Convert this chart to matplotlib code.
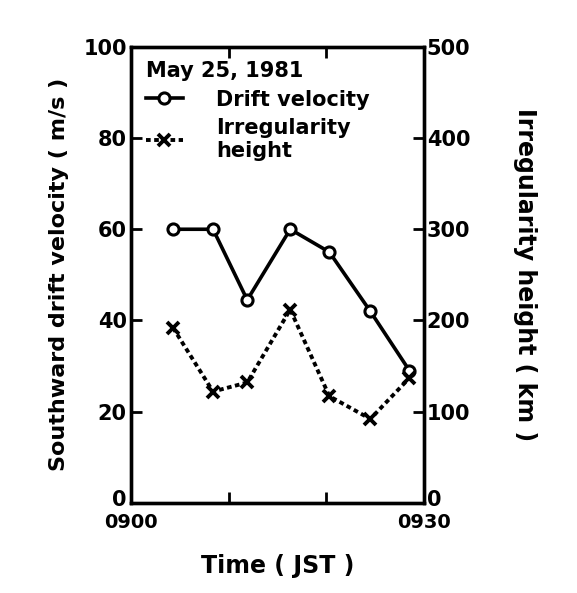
import matplotlib
matplotlib.use("Agg")
import matplotlib.pyplot as plt
import matplotlib.transforms as mtransforms

# minutes after 09:00 JST
minutes = [4.3, 8.4, 11.9, 16.3, 20.3, 24.5, 28.5]
drift_velocity = [60, 60, 44.5, 60, 55, 42, 29]        # m/s
irregularity_height = [192, 122, 132, 212, 117, 92, 137]  # km

plt.rcParams['font.family'] = ['DejaVu Sans']
plt.rcParams['font.weight'] = 'bold'
plt.rcParams['axes.labelweight'] = 'bold'

fig = plt.figure(figsize=(5.77, 5.93), dpi=100)
ax = fig.add_axes([0.227, 0.152, 0.508, 0.769])
ax2 = ax.twinx()

l1, = ax.plot(minutes, drift_velocity, color='black', lw=2.6, marker='o',
              ms=8, mfc='white', mec='black', mew=2.2, label='Drift velocity')
l2, = ax2.plot(minutes, irregularity_height, color='black', lw=2.8,
               linestyle=(0, (1.2, 0.9)), marker='x', ms=8, mew=2.8,
               label='Irregularity\nheight')

ax.set_xlim(0, 30)
ax.set_ylim(0, 100)
ax2.set_ylim(0, 500)

ax.set_xticks([0, 10, 20, 30])
ax.set_xticklabels(['0900', '', '', '0930'])
ax.set_yticks([0, 20, 40, 60, 80, 100])
ax2.set_yticks([0, 100, 200, 300, 400, 500])

ax.tick_params(axis='x', direction='in', length=8, width=2, top=True,
               labelsize=14, pad=7)
ax.tick_params(axis='y', direction='in', length=8, width=2, labelsize=15, pad=3)
ax2.tick_params(axis='y', direction='in', length=8, width=2, labelsize=15, pad=2)

for a in (ax, ax2):
    for s in a.spines.values():
        s.set_linewidth(2.4)

# nudge the two "0" labels up so they clear 0900 / 0930
fig.canvas.draw()
up = mtransforms.ScaledTranslation(0, 5 / 100, fig.dpi_scale_trans)
for lab in (ax.get_yticklabels()[0], ax2.get_yticklabels()[0]):
    lab.set_transform(lab.get_transform() + up)

ax.set_xlabel('Time ( JST )', fontsize=17, labelpad=16)
ax.set_ylabel('Southward drift velocity ( m/s )', fontsize=16, labelpad=10)
ax2.set_ylabel('Irregularity height ( km )', fontsize=17, rotation=-90,
               labelpad=48)

leg = ax.legend(handles=[l1, l2], loc='upper left', frameon=False,
                title='May 25, 1981', fontsize=15, title_fontsize=15,
                handlelength=1.8, handletextpad=1.6, borderaxespad=0.3,
                labelspacing=0.4, alignment='left')

fig.savefig('out.png', dpi=100)
